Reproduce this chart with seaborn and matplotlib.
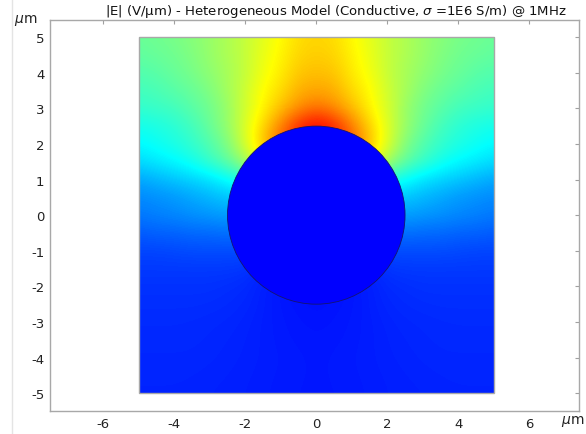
import numpy as np
import matplotlib
matplotlib.use("Agg")
import matplotlib.pyplot as plt
import seaborn as sns
from matplotlib.patches import Circle, Rectangle
from matplotlib.lines import Line2D

# ---- data ----
# grid coordinates (µm)
x_um = [-5.0, -4.5, -4.0, -3.5, -3.0, -2.5, -2.0, -1.5, -1.0, -0.5, 0.0,
        0.5, 1.0, 1.5, 2.0, 2.5, 3.0, 3.5, 4.0, 4.5, 5.0]
y_um = [5.0, 4.5, 4.0, 3.5, 3.0, 2.5, 2.0, 1.5, 1.0, 0.5, 0.0,
        -0.5, -1.0, -1.5, -2.0, -2.5, -3.0, -3.5, -4.0, -4.5, -5.0]
# normalised |E| (colour-table position) at each grid point, rows top -> bottom
E_norm = [
    [.47, .48, .49, .51, .53, .56, .59, .63, .67, .71, .72, .71, .67, .63, .59, .56, .53, .51, .49, .48, .47],
    [.46, .47, .48, .50, .53, .56, .59, .64, .68, .72, .73, .72, .68, .64, .59, .56, .53, .50, .48, .47, .46],
    [.44, .45, .47, .49, .52, .55, .59, .65, .69, .74, .75, .74, .69, .65, .59, .55, .52, .49, .47, .45, .44],
    [.42, .43, .45, .47, .50, .55, .60, .67, .71, .77, .78, .77, .71, .67, .60, .55, .50, .47, .45, .43, .42],
    [.40, .41, .42, .45, .48, .53, .61, .68, .75, .81, .85, .81, .75, .68, .61, .53, .48, .45, .42, .41, .40],
    [.36, .37, .39, .42, .47, .53, .62, .72, .83, .95, 1.0, .95, .83, .72, .62, .53, .47, .42, .39, .37, .36],
    [.33, .35, .37, .40, .44, .50, .62, .75, .88, .96, 1.0, .96, .88, .75, .62, .50, .44, .40, .37, .35, .33],
    [.29, .31, .33, .36, .41, .46, .55, .67, .80, .93, 1.0, .93, .80, .67, .55, .46, .41, .36, .33, .31, .29],
    [.22, .24, .26, .28, .30, .34, .38, .50, .67, .88, 1.0, .88, .67, .50, .38, .34, .30, .28, .26, .24, .22],
    [.18, .19, .20, .22, .24, .26, .27, .30, .40, .67, 1.0, .67, .40, .30, .27, .26, .24, .22, .20, .19, .18],
    [.16, .17, .18, .19, .20, .21, .21, .21, .21, .21, .21, .21, .21, .21, .21, .21, .20, .19, .18, .17, .16],
    [.12, .13, .13, .14, .14, .15, .14, .12, .09, .05, .03, .05, .09, .12, .14, .15, .14, .14, .13, .13, .12],
    [.09, .09, .095, .10, .10, .10, .10, .08, .05, .03, .02, .03, .05, .08, .10, .10, .10, .10, .095, .09, .09],
    [.075, .075, .075, .075, .075, .075, .07, .05, .03, .02, .02, .02, .03, .05, .07, .075, .075, .075, .075, .075, .075],
    [.065, .065, .065, .065, .065, .06, .055, .04, .03, .02, .02, .02, .03, .04, .055, .06, .065, .065, .065, .065, .065],
    [.06, .06, .06, .06, .058, .055, .05, .04, .03, .025, .02, .025, .03, .04, .05, .055, .058, .06, .06, .06, .06],
    [.055, .055, .055, .054, .052, .05, .045, .038, .032, .028, .025, .028, .032, .038, .045, .05, .052, .054, .055, .055, .055],
    [.053, .053, .053, .052, .05, .047, .043, .038, .033, .03, .028, .03, .033, .038, .043, .047, .05, .052, .053, .053, .053],
    [.05, .05, .05, .05, .048, .045, .042, .038, .035, .032, .03, .032, .035, .038, .042, .045, .048, .05, .05, .05, .05],
    [.048, .048, .048, .047, .045, .043, .04, .037, .034, .032, .03, .032, .034, .037, .04, .043, .045, .047, .048, .048, .048],
    [.046, .046, .046, .045, .043, .041, .039, .036, .033, .031, .03, .031, .033, .036, .039, .041, .043, .045, .046, .046, .046],
]
sphere_radius = 2.5
domain_half = 5.0
x_ticks = [-6, -4, -2, 0, 2, 4, 6]
y_ticks = [-5, -4, -3, -2, -1, 0, 1, 2, 3, 4, 5]
title = r"|E| (V/µm) - Heterogeneous Model (Conductive, $\sigma$ =1E6 S/m) @ 1MHz"

# ---- style ----
sns.set_style("white")
plt.rcParams["font.family"] = ["DejaVu Sans"]

W, H = 586, 435
fig = plt.figure(figsize=(W / 100, H / 100), dpi=100)
fig.patch.set_facecolor("white")

# faint UI line at the left
fig.add_artist(Line2D([12 / W, 12 / W], [0, 1], color="#e4e4e4", lw=1))

ax = fig.add_axes([50 / W, 1 - 412 / H, (579 - 50) / W, (412 - 21) / H])

cmap = sns.blend_palette(["#0000ff", "#00ffff", "#ffff00", "#ff0000"],
                         n_colors=256, as_cmap=True)

dx = (x_um[1] - x_um[0]) / 2
dy = (y_um[0] - y_um[1]) / 2
im = ax.imshow(np.array(E_norm), cmap=cmap, vmin=0, vmax=1,
               extent=[x_um[0] - dx, x_um[-1] + dx, y_um[-1] - dy, y_um[0] + dy],
               origin="upper", interpolation="bicubic",
               interpolation_stage="data", aspect="auto", zorder=1)
clip = Rectangle((-domain_half, -domain_half), 2 * domain_half, 2 * domain_half,
                 transform=ax.transData)
im.set_clip_path(clip)

ax.add_patch(Circle((0, 0), sphere_radius, facecolor=cmap(0.0),
                    edgecolor="#15156e", lw=0.6, zorder=2))
ax.add_patch(Rectangle((-domain_half, -domain_half), 2 * domain_half, 2 * domain_half,
                       fill=False, edgecolor="#a8a8a8", lw=1.0, zorder=3))

ax.set_xlim(-7.5, 7.4)
ax.set_ylim(-5.5, 5.48)
ax.set_xticks(x_ticks)
ax.set_xticklabels([str(v) for v in x_ticks])
ax.set_yticks(y_ticks)
ax.set_yticklabels([str(v) for v in y_ticks])
ax.tick_params(direction="in", length=3, width=0.8, color="#a0a0a0",
               labelsize=9.5, labelcolor="#222222", top=True, right=True, pad=4)
for s in ax.spines.values():
    s.set_color("#a8a8a8")
    s.set_linewidth(1.0)
ax.grid(False)

fig.text(336 / W, 1 - 12 / H, title, ha="center", va="center", fontsize=9.5,
         color="#111111")
fig.text(26 / W, 1 - 21 / H, r"$\mu$m", ha="center", va="center", fontsize=10,
         color="#222222")
fig.text(573 / W, 1 - 422 / H, r"$\mu$m", ha="center", va="center", fontsize=10,
         color="#222222")

fig.savefig("out.png", dpi=100, facecolor="white")
